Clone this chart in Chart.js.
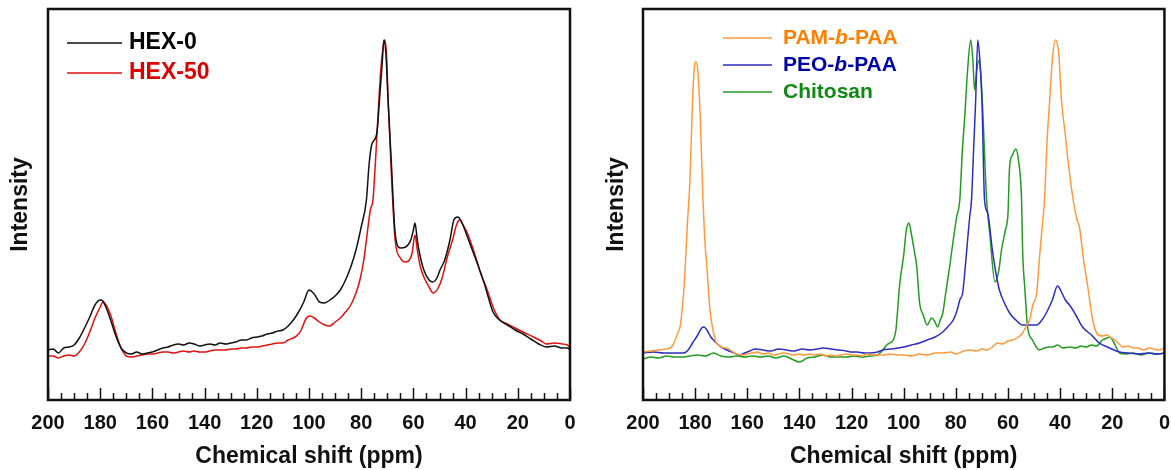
<!DOCTYPE html>
<html>
<head>
<meta charset="utf-8">
<script src="https://cdn.jsdelivr.net/npm/chart.js@4"></script>
<style>
  html, body { margin: 0; padding: 0; background: #fff; }
  body { width: 1171px; height: 470px; position: relative; overflow: hidden; }
  #izq { position: absolute; left: 0; top: 0; }
  #der { position: absolute; left: 596px; top: 0; }
</style>
</head>
<body>
<canvas id="izq" width="590" height="470"></canvas>
<canvas id="der" width="585" height="470"></canvas>
<script>
// desplazamiento quimico (ppm) e intensidad (u.a.)
const ppmHex0 = [200, 198, 196, 194, 192, 190, 188, 186, 184, 182, 180, 179, 178, 176, 174, 172, 170, 168, 166, 164, 162, 160, 158, 156, 154, 152, 150, 148, 146, 144, 142, 140, 138, 136, 134, 132, 130, 128, 126, 124, 122, 120, 118, 116, 114, 112, 110, 108, 106, 104, 102, 100, 98, 96, 94, 92, 90, 88, 86, 84, 82, 80, 78, 77, 76, 74, 73, 72, 71.3, 70.5, 69.7, 68.5, 67, 65, 63, 61, 60, 59.4, 58.5, 57.5, 56, 54, 52.5, 51, 49.8, 48, 46, 44.5, 43, 41.5, 40, 37, 35, 33, 31, 29.5, 27, 24, 21, 18, 15, 12, 9, 6, 3, 1, 0];
const hex0 = [50, 51, 47, 52, 53, 55, 62, 72, 83, 95, 100, 99, 94, 80, 64, 52, 47, 46, 48, 46, 47, 48, 50, 52, 53, 55, 56, 55, 57, 56, 54, 55, 56, 55, 57, 56, 57, 58, 60, 60, 62, 63, 64, 66, 67, 69, 70, 74, 80, 88, 98, 110, 106, 98, 97, 100, 104, 110, 120, 133, 150, 173, 200, 235, 255, 267, 300, 335, 360, 345, 300, 240, 167, 152, 153, 160, 170, 177, 160, 145, 130, 120, 118, 122, 130, 140, 160, 180, 183, 178, 168, 147, 133, 118, 100, 88, 80, 75, 70, 66, 61, 56, 53, 54, 52, 52, 50];

const ppmHex50 = [200, 198, 196, 194, 192, 190, 188, 186, 184, 182, 180, 179, 178, 176, 174, 172, 170, 168, 166, 164, 162, 160, 158, 156, 154, 152, 150, 148, 146, 144, 142, 140, 138, 136, 134, 132, 130, 128, 126, 124, 122, 120, 118, 116, 114, 112, 110, 108, 106, 104, 103, 101, 99.5, 98, 96, 94, 92, 90, 88, 86, 84, 82, 80.5, 79, 78, 76.5, 75.5, 74.5, 73.6, 72.5, 71.5, 71, 70.3, 69.7, 68.5, 67, 65, 63, 61.5, 60.5, 59.4, 58.5, 57.5, 56, 54, 52.4, 50.5, 49, 47, 45, 43.5, 42.2, 41, 39.5, 37, 34, 32, 29, 26.8, 24, 21.8, 18, 14, 11, 9, 6, 3, 1, 0];
const hex50 = [44, 44, 42, 44, 45, 44, 48, 56, 68, 82, 93, 98, 96, 85, 67, 52, 44, 43, 44, 45, 46, 46, 47, 48, 48, 47, 48, 49, 48, 49, 48, 48, 49, 50, 50, 50, 51, 51, 52, 52, 53, 53, 54, 55, 56, 57, 57, 60, 62, 66, 70, 82, 84, 82, 78, 75, 74, 78, 82, 88, 95, 107, 120, 140, 160, 190, 200, 240, 283, 330, 355, 360, 345, 300, 230, 160, 142, 138, 140, 147, 165, 150, 135, 123, 113, 107, 112, 122, 143, 160, 175, 180, 175, 168, 150, 125, 112, 90, 80, 76, 73, 68, 63, 59, 56, 57, 56, 55, 52];

const ppmPam = [200, 197, 194, 191, 189.7, 188.5, 187.7, 186.5, 185.8, 185, 184, 183, 182, 181, 180.2, 179.7, 179, 178, 177, 176.3, 175.5, 174.3, 173, 172, 170, 168, 166, 164, 162, 160, 158, 156, 154, 152, 150, 148, 146, 144, 142, 140, 138, 136, 134, 132, 130, 128, 126, 124, 122, 120, 118, 116, 114, 112, 110, 108, 105, 102, 100, 97, 94, 91, 88, 85, 82, 80, 77, 74.7, 72, 70, 68, 66, 64, 62, 60, 58, 56, 54.4, 53, 51.7, 50.5, 49, 48, 47, 46, 45, 44, 43, 41.8, 40.5, 39.5, 38, 37, 35, 33.5, 32.6, 31, 29.5, 28.7, 27.5, 26, 24, 22, 21, 19, 17, 16, 14, 12, 10, 8, 6, 4, 2, 0];
const pamPaa = [48, 49, 50, 51, 52, 55, 60, 68, 73, 90, 123, 175, 220, 300, 335, 338, 330, 280, 200, 160, 133, 90, 68, 58, 53, 52, 49, 46, 45, 46, 47, 48, 46, 47, 45, 46, 47, 46, 45, 46, 45, 46, 45, 46, 44, 45, 44, 45, 46, 45, 45, 44, 46, 45, 45, 45, 46, 45, 45, 44, 46, 45, 47, 47, 48, 46, 49, 50, 49, 51, 50, 53, 57, 56, 59, 60, 63, 67, 74, 80, 95, 107, 140, 170, 200, 260, 300, 340, 360, 345, 300, 265, 240, 200, 180, 173, 140, 115, 100, 80, 67, 64, 65, 63, 60, 55, 53, 54, 52, 52, 50, 52, 51, 50, 52];

const ppmPeo = [200, 196, 192, 188, 184.7, 183, 181, 179, 177.5, 176.6, 175.5, 174, 173, 171, 169.3, 167, 165, 163, 161, 159, 157, 154, 151, 148, 145, 142, 139, 136, 133, 131, 128, 125, 122, 120, 118, 115, 113, 110, 108, 105, 102, 100, 97, 94, 91, 88, 85.5, 83.5, 81, 79.5, 78.5, 77.4, 76.5, 75.5, 74.7, 74, 73.2, 72.4, 71.6, 70.8, 70, 69, 67.8, 66, 64.5, 63.3, 61, 59.4, 57, 54.4, 51.5, 49, 47, 45.3, 43, 41, 39.5, 38, 36.4, 34, 31.4, 28, 25, 21, 17.2, 14, 10, 6, 3, 0];
const peoPaa = [47, 48, 47, 47, 47, 49, 57, 65, 72, 73, 70, 63, 60, 55, 52, 49, 47, 45, 47, 49, 51, 50, 49, 51, 50, 49, 51, 50, 51, 52, 51, 50, 49, 48, 48, 47, 47, 48, 50, 51, 52, 53, 55, 57, 60, 63, 67, 72, 80, 90, 100, 107, 130, 160, 183, 200, 250, 300, 360, 340, 300, 200, 187, 150, 125, 110, 95, 87, 80, 75, 75, 75, 80, 87, 100, 114, 108, 100, 95, 85, 73, 65, 57, 52, 48, 47, 46, 47, 46, 47];

const ppmQui = [200, 197, 194, 191, 188, 185, 182, 179, 176, 173, 170, 167, 164, 161, 158, 155, 152, 149, 146, 143, 140, 137, 134, 131, 128, 125, 122, 119, 116, 113, 110, 108, 106.5, 105.4, 104, 103, 101.5, 100, 99, 98, 97, 96, 95, 93.9, 92.5, 91, 89.3, 88, 87, 86, 85, 84, 82.4, 81, 79.7, 78.5, 77.5, 76.6, 75.5, 74.3, 73.5, 72.8, 72, 71, 70.3, 69.7, 68.2, 67, 65, 63.5, 62.5, 61, 60, 59.4, 58.3, 57, 56, 54.8, 54.4, 53.5, 52.5, 50.6, 48, 46, 44, 42.9, 41, 39, 36.4, 34, 32, 30, 28, 26, 23.8, 22, 21, 19.5, 17.2, 15, 12, 9, 6, 3, 0];
const quitosano = [41, 43, 42, 44, 43, 43, 44, 45, 44, 47, 44, 43, 44, 43, 44, 43, 44, 42, 44, 41, 38, 42, 43, 45, 43, 43, 43, 44, 43, 44, 45, 50, 55, 57, 60, 70, 117, 145, 170, 177, 165, 150, 133, 97, 85, 75, 82, 78, 73, 80, 87, 105, 133, 160, 183, 200, 250, 283, 330, 360, 340, 310, 330, 340, 320, 290, 200, 167, 118, 130, 150, 170, 187, 233, 245, 251, 240, 200, 150, 110, 73, 60, 50, 52, 53, 53, 55, 52, 53, 52, 54, 53, 55, 54, 60, 62, 63, 58, 47, 46, 47, 45, 47, 46, 47];

const etiquetasIzq = ['HEX-0', 'HEX-50'];
const etiquetasDer = ['PAM-b-PAA', 'PEO-b-PAA', 'Chitosan'];

const fuente = '"Liberation Sans", Arial, sans-serif';

function puntos(xs, ys) {
    return xs.map((x, i) => ({ x: x, y: ys[i] }));
}

// marco completo y marcas hacia dentro
const marcoPlugin = {
    id: 'marco',
    afterDraw(chart) {
        const { ctx, chartArea: a, scales } = chart;
        const x = scales.x;
        ctx.save();
        ctx.strokeStyle = '#111';
        ctx.lineWidth = 1.5;
        for (let v = 0; v <= 200; v += 5) {
            const px = Math.round(x.getPixelForValue(v)) + 0.5;
            const largo = v % 20 === 0 ? 12 : 7;
            ctx.beginPath();
            ctx.moveTo(px, a.bottom);
            ctx.lineTo(px, a.bottom - largo);
            ctx.stroke();
        }
        ctx.lineWidth = 2.5;
        ctx.strokeRect(a.left, a.top, a.right - a.left, a.bottom - a.top);
        ctx.restore();
    }
};

// leyenda dibujada a mano (la "b" va en cursiva)
const leyendaPlugin = {
    id: 'leyenda',
    afterDraw(chart, args, opts) {
        const ctx = chart.ctx;
        ctx.save();
        chart.data.datasets.forEach((ds, i) => {
            const y = opts.y + i * opts.paso;
            ctx.strokeStyle = ds.borderColor;
            ctx.lineWidth = 1.5;
            ctx.beginPath();
            ctx.moveTo(opts.x1, y);
            ctx.lineTo(opts.x2, y);
            ctx.stroke();
            ctx.fillStyle = ds.colorTexto;
            ctx.textBaseline = 'middle';
            let tx = opts.tx;
            const partes = ds.label.split('-b-');
            const trozos = partes.length > 1
                ? [[partes[0] + '-', false], ['b', true], ['-' + partes[1], false]]
                : [[ds.label, false]];
            trozos.forEach(([t, cursiva]) => {
                ctx.font = (cursiva ? 'italic ' : '') + 'bold ' + opts.tam + 'px ' + fuente;
                ctx.fillText(t, tx, y);
                tx += ctx.measureText(t).width;
            });
        });
        ctx.restore();
    }
};

function crearGrafico(id, datasets, anchoY, relleno, leyenda) {
    return new Chart(document.getElementById(id), {
        type: 'line',
        data: { datasets: datasets },
        options: {
            responsive: false,
            animation: false,
            layout: { padding: { top: 9, right: relleno, left: 0, bottom: 0 } },
            elements: { point: { radius: 0 }, line: { borderWidth: 1.5, cubicInterpolationMode: 'monotone' } },
            plugins: {
                legend: { display: false },
                tooltip: { enabled: false },
                leyenda: leyenda
            },
            scales: {
                x: {
                    type: 'linear',
                    min: 0,
                    max: 200,
                    reverse: true,
                    afterFit: s => { s.height = 70; },
                    grid: { display: false, drawTicks: false },
                    border: { display: false },
                    ticks: {
                        stepSize: 20,
                        padding: 11,
                        color: '#111',
                        font: { family: fuente, size: 20, weight: 'bold' },
                        maxRotation: 0
                    },
                    title: {
                        display: true,
                        text: 'Chemical shift (ppm)',
                        color: '#111',
                        font: { family: fuente, size: 23, weight: 'bold', lineHeight: 1 },
                        padding: { top: 0, bottom: 2 }
                    }
                },
                y: {
                    min: 0,
                    max: 391,
                    afterFit: s => { s.width = anchoY; },
                    grid: { display: false, drawTicks: false },
                    border: { display: false },
                    ticks: { display: false },
                    title: {
                        display: true,
                        text: 'Intensity',
                        color: '#111',
                        font: { family: fuente, size: 23, weight: 'bold', lineHeight: 1 },
                        padding: { top: 9, bottom: 0 }
                    }
                }
            }
        },
        plugins: [marcoPlugin, leyendaPlugin]
    });
}

crearGrafico('izq', [
    { label: etiquetasIzq[0], data: puntos(ppmHex0, hex0), borderColor: '#111111', colorTexto: '#000000' },
    { label: etiquetasIzq[1], data: puntos(ppmHex50, hex50), borderColor: '#e01010', colorTexto: '#dd0000' }
], 48, 20, { x1: 67, x2: 122, tx: 129, y: 43, paso: 30, tam: 23 });

crearGrafico('der', [
    { label: etiquetasDer[0], data: puntos(ppmPam, pamPaa), borderColor: '#ff9a3c', colorTexto: '#ff8000' },
    { label: etiquetasDer[1], data: puntos(ppmPeo, peoPaa), borderColor: '#2d2dc0', colorTexto: '#0000a8' },
    { label: etiquetasDer[2], data: puntos(ppmQui, quitosano), borderColor: '#239b23', colorTexto: '#118811' }
], 47, 16, { x1: 127, x2: 176, tx: 187, y: 38, paso: 27, tam: 21 });
</script>
</body>
</html>
